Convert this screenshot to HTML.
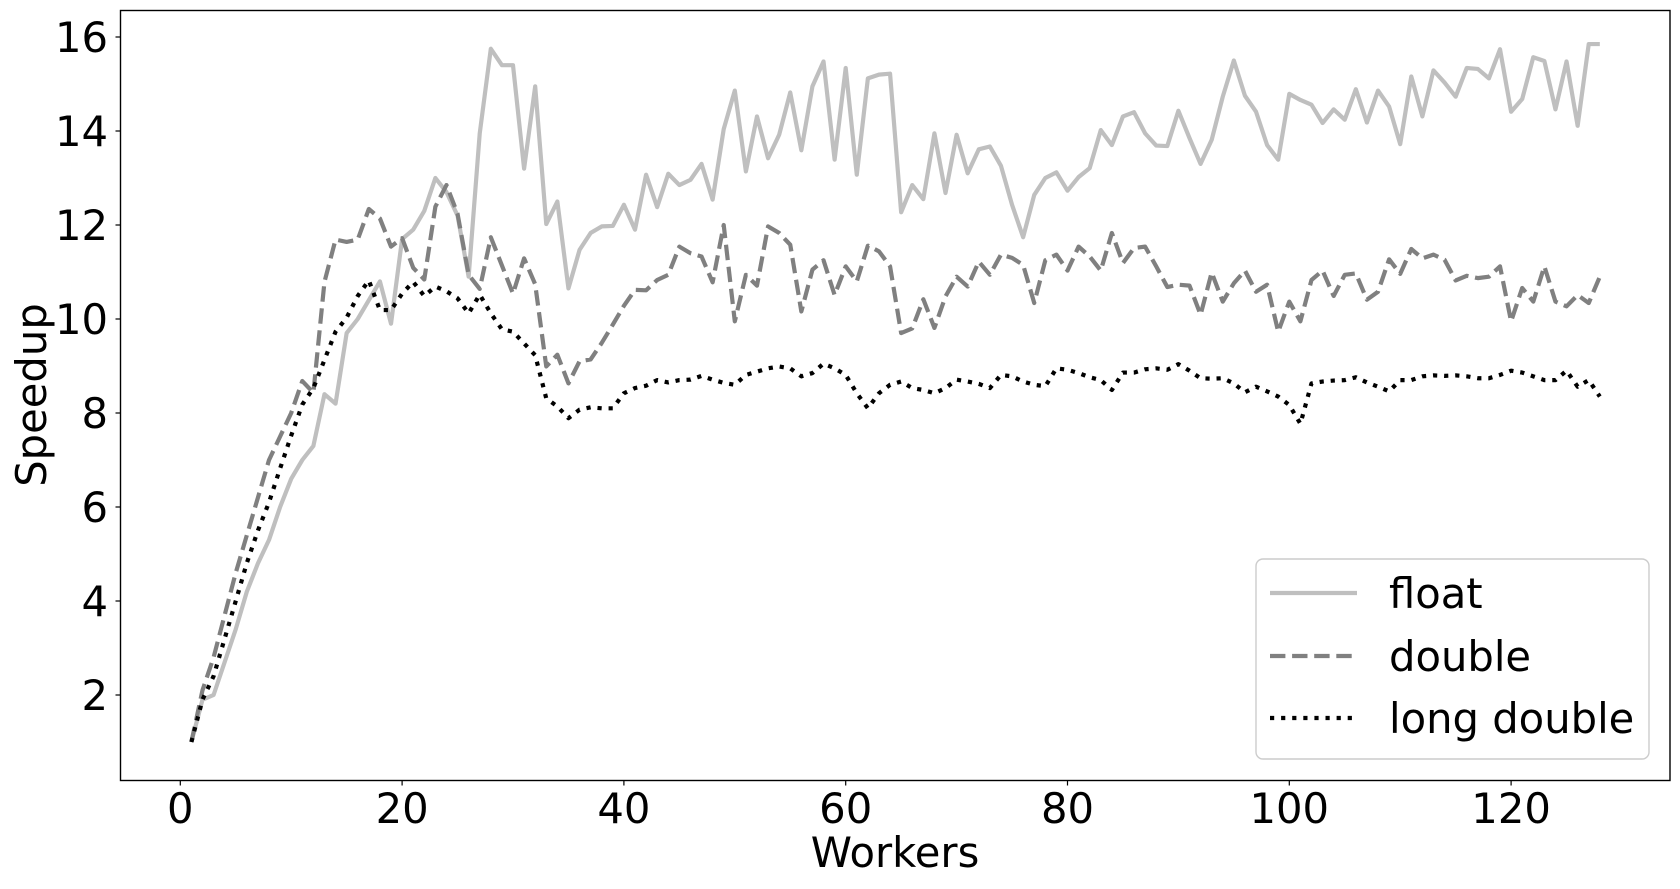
<!DOCTYPE html>
<html>
<head>
<meta charset="utf-8">
<style>
html,body{margin:0;padding:0;background:#fff;}
svg{display:block;}
text{font-family:"DejaVu Sans","Liberation Sans",sans-serif;fill:#000;}
</style>
</head>
<body>
<svg id="chart" width="1680" height="889" viewBox="0 0 1680 889" xmlns="http://www.w3.org/2000/svg">
  <rect x="0" y="0" width="1680" height="889" fill="#fff"/>
  <g id="series"></g>
  <rect x="120.5" y="10.5" width="1549.5" height="770" fill="none" stroke="#000" stroke-width="1.4"/>
  <g id="xticks"></g>
  <g id="yticks"></g>
  <text x="895" y="867" font-size="41.7" text-anchor="middle">Workers</text>
  <text x="0" y="0" font-size="41.7" text-anchor="middle" transform="translate(46,395) rotate(-90)">Speedup</text>
  <g>
    <rect x="1256" y="559" width="393" height="200" rx="7" fill="#fff" fill-opacity="0.8" stroke="#cccccc" stroke-width="1.4"/>
    <line x1="1270" y1="593" x2="1357" y2="593" stroke="#bfbfbf" stroke-width="4.2"/>
    <text x="1389" y="608" font-size="41.7">float</text>
    <line x1="1270" y1="656" x2="1357" y2="656" stroke="#808080" stroke-width="4.2" stroke-dasharray="15.4,6.7"/>
    <text x="1389" y="671" font-size="41.7">double</text>
    <line x1="1270" y1="718" x2="1357" y2="718" stroke="#000" stroke-width="4.2" stroke-dasharray="4.2,6.9"/>
    <text x="1389" y="733" font-size="41.7">long double</text>
  </g>
</svg>
<script>
const xTickValues = [0, 20, 40, 60, 80, 100, 120];
const yTickValues = [2, 4, 6, 8, 10, 12, 14, 16];
const floatSpeedup = [1.0,1.9,2.0,2.7,3.4,4.2,4.8,5.3,6.0,6.6,7.0,7.3,8.4,8.2,9.7,10.0,10.4,10.8,9.9,11.7,11.9,12.3,13.0,12.7,12.2,10.9,13.95,15.75,15.4,15.4,13.2,14.95,12.02,12.5,10.65,11.47,11.83,11.97,11.98,12.43,11.9,13.07,12.38,13.09,12.85,12.96,13.3,12.54,14.04,14.86,13.14,14.31,13.42,13.92,14.82,13.59,14.95,15.48,13.39,15.34,13.07,15.12,15.2,15.22,12.27,12.85,12.55,13.95,12.68,13.92,13.1,13.61,13.67,13.26,12.43,11.74,12.64,13.0,13.12,12.73,13.02,13.21,14.02,13.7,14.31,14.4,13.95,13.69,13.68,14.43,13.85,13.3,13.81,14.73,15.5,14.75,14.41,13.7,13.39,14.79,14.66,14.56,14.17,14.46,14.24,14.89,14.18,14.86,14.52,13.72,15.16,14.31,15.29,15.03,14.73,15.34,15.32,15.12,15.74,14.41,14.68,15.57,15.49,14.46,15.48,14.11,15.85,15.85];
const doubleSpeedup = [1.0,2.1,2.8,3.7,4.6,5.4,6.2,7.0,7.5,8.0,8.68,8.43,10.79,11.69,11.64,11.69,12.34,12.14,11.54,11.72,11.09,10.84,12.39,12.85,12.24,10.94,10.64,11.74,11.14,10.54,11.29,10.74,8.99,9.24,8.63,9.1,9.14,9.49,9.88,10.28,10.62,10.61,10.83,10.94,11.54,11.4,11.33,10.78,12.0,9.95,10.94,10.71,11.97,11.83,11.58,10.16,11.05,11.25,10.51,11.12,10.8,11.56,11.44,11.12,9.7,9.8,10.42,9.81,10.48,10.9,10.69,11.22,10.94,11.37,11.3,11.15,10.34,11.25,11.37,11.03,11.54,11.33,11.03,11.83,11.19,11.51,11.54,11.12,10.68,10.73,10.71,10.09,10.99,10.37,10.76,11.03,10.58,10.73,9.73,10.37,9.95,10.83,11.03,10.49,10.94,10.97,10.41,10.58,11.27,10.96,11.49,11.29,11.37,11.26,10.82,10.92,10.87,10.9,11.12,9.95,10.66,10.37,11.12,10.37,10.27,10.51,10.34,10.9];
const longDoubleSpeedup = [1.0,1.9,2.4,3.2,4.0,4.81,5.5,6.1,6.82,7.52,8.18,8.53,9.13,9.73,10.03,10.49,10.82,10.19,10.19,10.54,10.79,10.49,10.69,10.59,10.44,10.12,10.52,10.12,9.78,9.73,9.48,9.23,8.31,8.14,7.89,8.07,8.12,8.1,8.1,8.42,8.53,8.58,8.7,8.65,8.7,8.71,8.79,8.71,8.64,8.6,8.81,8.88,8.95,8.99,8.95,8.78,8.85,9.05,8.95,8.81,8.42,8.1,8.42,8.6,8.67,8.53,8.49,8.42,8.53,8.71,8.67,8.62,8.53,8.81,8.78,8.67,8.6,8.57,8.95,8.92,8.85,8.76,8.7,8.49,8.86,8.86,8.93,8.95,8.92,9.04,8.9,8.74,8.73,8.74,8.63,8.44,8.56,8.46,8.35,8.17,7.77,8.63,8.67,8.69,8.7,8.76,8.65,8.56,8.46,8.7,8.7,8.78,8.8,8.79,8.8,8.78,8.74,8.74,8.81,8.9,8.86,8.78,8.7,8.7,8.9,8.56,8.7,8.35];

const NS = 'http://www.w3.org/2000/svg';
function xScale(v){ return 180.3 + (v) * 11.09; }
function yScale(v){ return 789 - v * 47; }

const seriesLayer = document.getElementById('series');
function drawSeries(values, name, color, dash){
  const pts = values.map((v, i) => xScale(i + 1).toFixed(2) + ',' + yScale(v).toFixed(2)).join(' ');
  const pl = document.createElementNS(NS, 'polyline');
  
  
  pl.setAttribute('points', pts);
  pl.setAttribute('fill', 'none');
  pl.setAttribute('stroke', color);
  pl.setAttribute('stroke-width', '4.2');
  pl.setAttribute('stroke-linejoin', 'round');
  if (dash) pl.setAttribute('stroke-dasharray', dash);
  seriesLayer.appendChild(pl);
}
drawSeries(floatSpeedup, 'float-line', '#bfbfbf', null);
drawSeries(doubleSpeedup, 'double-line', '#808080', '15.4,6.7');
drawSeries(longDoubleSpeedup, 'long-double-line', '#000000', '4.2,6.9');

const xg = document.getElementById('xticks');
xTickValues.forEach(v => {
  const x = xScale(v);
  const t = document.createElementNS(NS, 'line');
  
  
  t.setAttribute('x1', x); t.setAttribute('x2', x);
  t.setAttribute('y1', 780.5); t.setAttribute('y2', 785.5);
  t.setAttribute('stroke', '#000'); t.setAttribute('stroke-width', '1.2');
  xg.appendChild(t);
  const lb = document.createElementNS(NS, 'text');
  
  
  lb.setAttribute('x', x); lb.setAttribute('y', 823);
  lb.setAttribute('font-size', '41.7');
  lb.setAttribute('text-anchor', 'middle');
  lb.textContent = v;
  xg.appendChild(lb);
});
const yg = document.getElementById('yticks');
yTickValues.forEach(v => {
  const y = yScale(v);
  const t = document.createElementNS(NS, 'line');
  
  
  t.setAttribute('x1', 115.5); t.setAttribute('x2', 120.5);
  t.setAttribute('y1', y); t.setAttribute('y2', y);
  t.setAttribute('stroke', '#000'); t.setAttribute('stroke-width', '1.2');
  yg.appendChild(t);
  const lb = document.createElementNS(NS, 'text');
  
  
  lb.setAttribute('x', 108); lb.setAttribute('y', y + 15);
  lb.setAttribute('font-size', '41.7');
  lb.setAttribute('text-anchor', 'end');
  lb.textContent = v;
  yg.appendChild(lb);
});
</script>
</body>
</html>
